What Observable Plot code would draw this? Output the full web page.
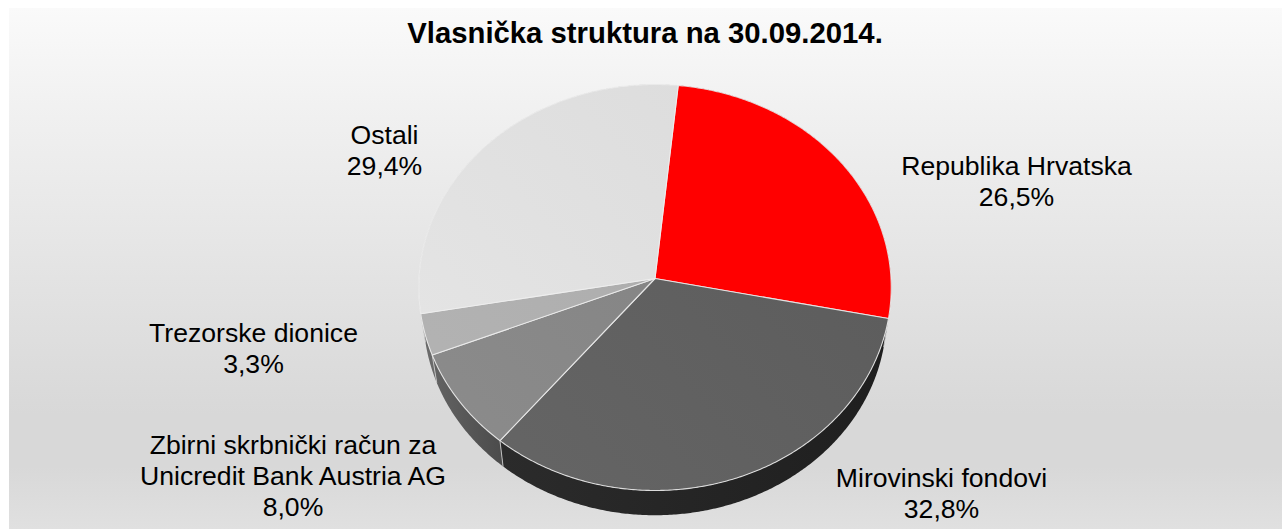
<!DOCTYPE html>
<html lang="hr">
<head>
<meta charset="utf-8">
<title>Vlasnička struktura na 30.09.2014.</title>
<style>
html,body{margin:0;padding:0;background:#fff;overflow:hidden}
#chart{position:relative;width:1282px;height:529px}
#bg{position:absolute;left:9px;top:8px;right:0;bottom:0;
background:linear-gradient(to bottom,#fafafa 0%,#f0f0f0 21%,#d8d8d8 78%,#d8d8d8 88%,#e0e0e0 100%)}
#chart svg{position:absolute;left:0;top:0;background:transparent}
</style>
<script src="https://cdn.jsdelivr.net/npm/d3@7"></script>
<script src="https://cdn.jsdelivr.net/npm/@observablehq/plot@0.6"></script>
</head>
<body>
<div id="chart"><div id="bg"></div></div>
<script>
// Data
const chartTitle = "Vlasnička struktura na 30.09.2014.";
const categories = ["Republika Hrvatska","Mirovinski fondovi","Zbirni skrbnički račun za\nUnicredit Bank Austria AG","Trezorske dionice","Ostali"];
const shares = [26.5,32.8,8.0,3.3,29.4];
const shareLabels = ["26,5%","32,8%","8,0%","3,3%","29,4%"];

// Style
const topColors = [["#ff0000","#ff0000"],["#5a5a5a","#666666"],["#7f7f7f","#8c8c8c"],["#a8a8a8","#b4b4b4"],["#dadada","#e6e6e6"]];
const wallColors = [["#222222","#222222"],["#2b2b2b","#1f1f1f"],["#646464","#4a4a4a"],["#6a6a6a","#555555"],["#999999","#999999"]];
const labelAnchorX = [1016,941,292.5,253,384];
const labelAnchorY = [179.8,492.5,475,347.3,148.8];

// Pie geometry (perspective disc)
const W = 1282, H = 529;
const startDeg = 5.9, cx = 654.5, apexY = 278, rx = 236, ry = 202.6, persp = 0.0443;
const depthScale = 0.98, depthY = 29;
function project(deg, lower){
  const t = deg*Math.PI/180, a = Math.sin(t), b = -Math.cos(t), d = 1-persp*b;
  const s = lower ? depthScale : 1;
  return [cx + s*rx*a/d, apexY + (lower?depthY:0) + s*ry*b/d];
}
const total = d3.sum(shares);
let run = startDeg;
const slices = categories.map((name,i)=>{
  const a0 = run, a1 = run + shares[i]/total*360; run = a1;
  return {name,i,a0,a1};
});
const arcDegs = (a0,a1)=>{const n=Math.max(2,Math.ceil((a1-a0)*2));return d3.range(n+1).map(k=>a0+(a1-a0)*k/n)};
const topPath = s => [[cx,apexY],...arcDegs(s.a0,s.a1).map(d=>project(d,false)),[cx,apexY]];
const wallPath = s => [...arcDegs(s.a0,s.a1).map(d=>project(d,false)),...arcDegs(s.a0,s.a1).reverse().map(d=>project(d,true))];

const X = d=>d[0], Y = d=>d[1];
const seamDegs = slices.map(s=>s.a1).filter(a=>{const b=-Math.cos(a*Math.PI/180);return b>0});

const labels = categories.map((c,i)=>({text:c+"\n"+shareLabels[i],x:labelAnchorX[i],y:labelAnchorY[i]}));

const plot = Plot.plot({
  width:W,height:H,margin:0,
  x:{domain:[0,W],range:[0,W],axis:null},
  y:{domain:[0,H],range:[0,H],axis:null},
  marks:[
    ...slices.map(s=>Plot.line(wallPath(s),{x:X,y:Y,fill:`url(#wall${s.i})`,stroke:"none"})),
    ...seamDegs.map(a=>Plot.line([project(a,false),project(a,true)],{x:X,y:Y,stroke:"#c8c8c8",strokeWidth:0.9})),
    ...slices.map(s=>Plot.line(topPath(s),{x:X,y:Y,fill:`url(#top${s.i})`,stroke:"#eeeeee",strokeWidth:1.1,strokeOpacity:0.85,strokeLinejoin:"round"})),
    Plot.text(labels,{x:"x",y:"y",text:"text",fontFamily:"Liberation Sans",fontSize:26.6,lineHeight:1.165,fill:"#000",textAnchor:"middle",lineAnchor:"middle"}),
    Plot.text([chartTitle],{x:()=>644.5,y:()=>33,text:d=>d,fontFamily:"Liberation Sans",fontSize:29.3,fontWeight:"bold",fill:"#000",textAnchor:"middle",lineAnchor:"middle"})
  ]
});

// Gradients referenced by the marks
const defs = d3.select(plot).insert("defs",":first-child");
function grad(id,[c0,c1],x1,y1,x2,y2){
  const g = defs.append("linearGradient").attr("id",id).attr("gradientUnits","userSpaceOnUse")
    .attr("x1",x1).attr("y1",y1).attr("x2",x2).attr("y2",y2);
  g.append("stop").attr("offset","0").attr("stop-color",c0);
  g.append("stop").attr("offset","1").attr("stop-color",c1);
}
topColors.forEach((c,i)=>grad("top"+i,c,cx+rx,apexY-ry,cx-rx,apexY+ry));
wallColors.forEach((c,i)=>grad("wall"+i,c,i===1?500:430,0,i===1?880:505,0));

document.getElementById("chart").appendChild(plot);
</script>
</body>
</html>
